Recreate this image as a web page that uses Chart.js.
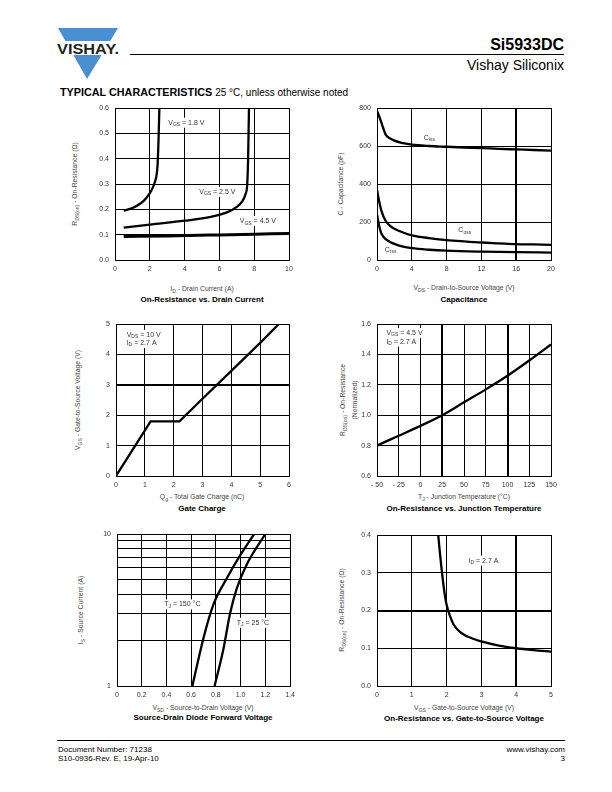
<!DOCTYPE html>
<html>
<head>
<meta charset="utf-8">
<script src="https://cdn.jsdelivr.net/npm/chart.js@4.4.1/dist/chart.umd.min.js"></script>
<style>
  body { margin: 0; width: 612px; height: 792px; position: relative; background: #fff; overflow: hidden;
         font-family: "Liberation Sans", Arial, Helvetica, sans-serif; color: #000; }
  .abs { position: absolute; white-space: nowrap; }
  .c { transform: translate(-50%, -50%); }
  .r { transform: translate(-50%, -50%) rotate(-90deg); }
  .ax { font-size: 6.8px; color: #444; line-height: 1; }
  .tt { font-size: 8px; font-weight: bold; line-height: 1; }
  .s { font-size: 0.75em; position: relative; top: 0.3em; }
</style>
</head>
<body>

<svg class="abs" style="left:0;top:0" width="140" height="90">
  <polygon points="58,28 118,28 87,79" fill="#4a8fd2"/>
  <rect x="54" y="41" width="70" height="14" fill="#fff"/>
  <text x="57" y="53.5" font-family="Liberation Sans, Arial" font-weight="bold" font-size="14" textLength="62" lengthAdjust="spacingAndGlyphs" fill="#222">VISHAY.</text>
</svg>
<div class="abs" style="left:130px;top:54px;width:434px;border-top:1px solid #000"></div>
<div class="abs" style="right:48px;top:36.5px;font-size:16px;font-weight:bold;line-height:1">Si5933DC</div>
<div class="abs" style="right:48px;top:57.7px;font-size:14px;line-height:1">Vishay Siliconix</div>
<div class="abs" style="left:60px;top:87px;font-size:10.8px;line-height:1"><b>TYPICAL CHARACTERISTICS</b> <span style="font-size:10px">25 °C, unless otherwise noted</span></div>

<div class="abs r ax" style="left:75px;top:184px">R<span class="s">DS(on)</span> - On-Resistance (Ω)</div>
<div class="abs c ax" style="left:202px;top:289px">I<span class="s">D</span> - Drain Current (A)</div>
<div class="abs c tt" style="left:202px;top:299.5px">On-Resistance vs. Drain Current</div>

<div class="abs r ax" style="left:341px;top:184px">C - Capacitance (pF)</div>
<div class="abs c ax" style="left:464px;top:288px">V<span class="s">DS</span> - Drain-to-Source Voltage (V)</div>
<div class="abs c tt" style="left:464px;top:300px">Capacitance</div>

<div class="abs r ax" style="left:78px;top:400px">V<span class="s">GS</span> - Gate-to-Source Voltage (V)</div>
<div class="abs c ax" style="left:202px;top:497px">Q<span class="s">g</span> - Total Gate Charge (nC)</div>
<div class="abs c tt" style="left:202px;top:509px">Gate Charge</div>

<div class="abs r ax" style="left:343px;top:400px">R<span class="s">DS(on)</span> - On-Resistance</div>
<div class="abs r ax" style="left:355px;top:400px">(Normalized)</div>
<div class="abs c ax" style="left:464px;top:497px">T<span class="s">J</span> - Junction Temperature (°C)</div>
<div class="abs c tt" style="left:464px;top:509px">On-Resistance vs. Junction Temperature</div>

<div class="abs r ax" style="left:81px;top:610px">I<span class="s">S</span> - Source Current (A)</div>
<div class="abs c ax" style="left:203px;top:708px">V<span class="s">SD</span> - Source-to-Drain Voltage (V)</div>
<div class="abs c tt" style="left:203px;top:718px">Source-Drain Diode Forward Voltage</div>

<div class="abs r ax" style="left:342px;top:610px">R<span class="s">DS(on)</span> - On-Resistance (Ω)</div>
<div class="abs c ax" style="left:464px;top:708px">V<span class="s">GS</span> - Gate-to-Source Voltage (V)</div>
<div class="abs c tt" style="left:464px;top:718.5px">On-Resistance vs. Gate-to-Source Voltage</div>

<div class="abs" style="left:57px;top:740px;width:508px;border-top:1px solid #000"></div>
<div class="abs" style="left:58px;top:745px;font-size:8px;line-height:9px">Document Number: 71238<br>S10-0936-Rev. E, 19-Apr-10</div>
<div class="abs" style="right:47px;top:745px;font-size:8px;line-height:9px;text-align:right">www.vishay.com<br>3</div>

<script>
// On-Resistance vs. Drain Current
const idTicks = [0, 2, 4, 6, 8, 10];
const rdsTicks = [0, 0.1, 0.2, 0.3, 0.4, 0.5, 0.6];
const idVgs18 = [0.5, 1.0, 1.5, 1.8, 2.1, 2.3, 2.4, 2.45, 2.5, 2.55];
const rdsVgs18 = [0.195, 0.205, 0.225, 0.245, 0.275, 0.31, 0.34, 0.38, 0.47, 0.6];
const idVgs25 = [0.5, 2, 4, 5.5, 6.5, 7.0, 7.3, 7.5, 7.6, 7.65, 7.7];
const rdsVgs25 = [0.128, 0.14, 0.155, 0.17, 0.19, 0.21, 0.23, 0.26, 0.3, 0.4, 0.6];
const idVgs45 = [0.5, 3, 6, 8, 10];
const rdsVgs45 = [0.093, 0.095, 0.099, 0.102, 0.105];

// Capacitance
const vdsTicks = [0, 4, 8, 12, 16, 20];
const capTicks = [0, 200, 400, 600, 800];
const vdsCiss = [0, 0.3, 0.6, 1, 1.5, 2, 3, 4, 6, 8, 10, 12, 14, 16, 18, 20];
const ciss = [785, 750, 710, 660, 640, 628, 615, 607, 600, 596, 592, 589, 585, 582, 579, 576];
const vdsCoss = [0, 0.2, 0.5, 1, 1.5, 2, 3, 4, 6, 8, 10, 12, 14, 16, 18, 20];
const coss = [370, 320, 260, 205, 180, 165, 145, 130, 115, 105, 98, 92, 88, 84, 82, 80];
const vdsCrss = [0, 0.2, 0.5, 1, 1.5, 2, 3, 4, 6, 8, 12, 16, 20];
const crss = [240, 190, 140, 110, 95, 85, 70, 62, 54, 49, 44, 41, 39];

// Gate Charge
const qgTicks = [0, 1, 2, 3, 4, 5, 6];
const vgsTicks = [0, 1, 2, 3, 4, 5];
const qg = [0, 1.2, 2.2, 3.0, 4.0, 5.0, 5.65];
const vgsCharge = [0, 1.8, 1.8, 2.54, 3.46, 4.38, 5.0];

// On-Resistance vs. Junction Temperature
const tjTicks = [-50, -25, 0, 25, 50, 75, 100, 125, 150];
const normTicks = [0.6, 0.8, 1.0, 1.2, 1.4, 1.6];
const tj = [-50, -25, 0, 25, 50, 75, 100, 125, 150];
const rdsNorm = [0.80, 0.865, 0.93, 1.0, 1.085, 1.17, 1.26, 1.36, 1.465];

// Source-Drain Diode Forward Voltage
const vsdTicks = [0, 0.2, 0.4, 0.6, 0.8, 1.0, 1.2, 1.4];
const isTicks = [1, 2, 3, 4, 5, 6, 7, 8, 9, 10];
const vsd150 = [0.61, 0.70, 0.78, 0.89, 1.0, 1.11];
const is150 = [1, 2.07, 3.43, 5.13, 7.31, 10];
const vsd25 = [0.79, 0.86, 0.915, 0.97, 1.05, 1.2];
const is25 = [1, 1.73, 3.0, 4.4, 6.3, 10];

// On-Resistance vs. Gate-to-Source Voltage
const vgsSweepTicks = [0, 1, 2, 3, 4, 5];
const rdsSweepTicks = [0, 0.1, 0.2, 0.3, 0.4];
const vgsSweep = [1.76, 1.8, 1.85, 1.9, 1.95, 2.0, 2.1, 2.2, 2.4, 2.6, 3.0, 3.5, 4.0, 4.5, 5.0];
const rdsSweep = [0.4, 0.36, 0.315, 0.275, 0.24, 0.215, 0.185, 0.163, 0.142, 0.131, 0.118, 0.107, 0.100, 0.095, 0.091];

Chart.defaults.font.family = '"Liberation Sans", Arial, Helvetica, sans-serif';
Chart.defaults.color = '#333';

function pts(xs, ys) {
  return xs.map((x, i) => ({ x: x, y: ys[i] }));
}

// in-plot labels, "_{..}" = subscript
function notesPlugin(items) {
  return {
    id: 'notes',
    beforeDatasetsDraw(chart) {
      const ctx = chart.ctx;
      items.forEach(n => {
        const parts = n.text.split(/(_\{[^}]*\})/).filter(Boolean).map(p =>
          p.startsWith('_{') ? { t: p.slice(2, -1), sub: true } : { t: p, sub: false });
        const px = chart.scales.x.getPixelForValue(n.x);
        const py = chart.scales.y.getPixelForValue(n.y);
        ctx.save();
        let w = 0;
        parts.forEach(p => {
          ctx.font = (p.sub ? 5 : 7) + 'px "Liberation Sans", Arial';
          p.w = ctx.measureText(p.t).width;
          w += p.w;
        });
        ctx.fillStyle = '#fff';
        ctx.fillRect(px - 1.5, py - 7, w + 3, 10);
        ctx.fillStyle = '#333';
        ctx.textBaseline = 'alphabetic';
        let x = px;
        parts.forEach(p => {
          ctx.font = (p.sub ? 5 : 7) + 'px "Liberation Sans", Arial';
          ctx.fillText(p.t, x, py + (p.sub ? 1.5 : 0));
          x += p.w;
        });
        ctx.restore();
      });
    }
  };
}

function axis(ticks, fmt, thick, horiz, log) {
  const near = v => thick.some(t => Math.abs(t - v) < 1e-6);
  return {
    type: log ? 'logarithmic' : 'linear',
    min: ticks[0],
    max: ticks[ticks.length - 1],
    afterBuildTicks: s => { s.ticks = ticks.map(v => ({ value: v })); },
    afterFit: s => {
      if (horiz) s.height = 20; else s.width = 40;
      s.paddingLeft = s.paddingRight = s.paddingTop = s.paddingBottom = 0;
    },
    grid: { color: '#000', drawTicks: false, lineWidth: c => (c.tick && near(c.tick.value)) ? 2 : 1 },
    border: { color: '#000', width: 1 },
    ticks: { font: { size: 7 }, color: '#333', padding: horiz ? 5 : 6, maxRotation: 0, autoSkip: false, callback: v => fmt(v) }
  };
}

function makeChart(o) {
  const b = o.box;
  const w = b[2] - b[0] + 50, h = b[3] - b[1] + 26;
  const cv = document.createElement('canvas');
  cv.width = w; cv.height = h;
  cv.style.cssText = 'position:absolute;left:' + (b[0] - 40) + 'px;top:' + (b[1] - 6) + 'px;width:' + w + 'px;height:' + h + 'px';
  document.body.appendChild(cv);
  return new Chart(cv, {
    type: 'scatter',
    data: {
      datasets: o.series.map(s => ({
        data: pts(s.x, s.y),
        showLine: true,
        borderColor: '#000',
        borderWidth: s.w || 2.3,
        pointRadius: 0,
        tension: s.straight ? 0 : 0.4,
        cubicInterpolationMode: s.straight ? 'default' : 'monotone',
        fill: false
      }))
    },
    options: {
      responsive: false,
      animation: false,
      devicePixelRatio: 1,
      layout: { padding: { top: 6, right: 10, left: 0, bottom: 0 } },
      plugins: { legend: { display: false }, tooltip: { enabled: false } },
      scales: {
        x: axis(o.xTicks, o.xFmt, o.thickX || [], true, false),
        y: axis(o.yTicks, o.yFmt, o.thickY || [], false, o.yLog)
      }
    },
    plugins: [notesPlugin(o.notes)]
  });
}

const plain = v => String(v);
const oneDec = v => v.toFixed(1);

makeChart({
  box: [115, 108, 289, 260],
  xTicks: idTicks, yTicks: rdsTicks, xFmt: plain, yFmt: oneDec,
  series: [
    { x: idVgs18, y: rdsVgs18 },
    { x: idVgs25, y: rdsVgs25 },
    { x: idVgs45, y: rdsVgs45, w: 3 }
  ],
  notes: [
    { x: 3.06, y: 0.534, text: 'V_{GS} = 1.8 V' },
    { x: 4.84, y: 0.261, text: 'V_{GS} = 2.5 V' },
    { x: 7.17, y: 0.146, text: 'V_{GS} = 4.5 V' }
  ]
});

makeChart({
  box: [377, 108, 551, 260],
  xTicks: vdsTicks, yTicks: capTicks, xFmt: plain, yFmt: plain, thickX: [16],
  series: [
    { x: vdsCiss, y: ciss },
    { x: vdsCoss, y: coss },
    { x: vdsCrss, y: crss }
  ],
  notes: [
    { x: 5.38, y: 634, text: 'C_{iss}' },
    { x: 9.35, y: 147, text: 'C_{oss}' },
    { x: 0.88, y: 43, text: 'C_{rss}' }
  ]
});

makeChart({
  box: [116, 324, 289, 476],
  xTicks: qgTicks, yTicks: vgsTicks, xFmt: plain, yFmt: plain, thickY: [3],
  series: [{ x: qg, y: vgsCharge, straight: true }],
  notes: [
    { x: 0.37, y: 4.58, text: 'V_{DS} = 10 V' },
    { x: 0.37, y: 4.31, text: 'I_{D} = 2.7 A' }
  ]
});

makeChart({
  box: [377, 324, 551, 476],
  xTicks: tjTicks, yTicks: normTicks,
  xFmt: v => v < 0 ? '- ' + (-v) : String(v), yFmt: oneDec, thickX: [25, 100],
  series: [{ x: tj, y: rdsNorm }],
  notes: [
    { x: -39.2, y: 1.528, text: 'V_{GS} = 4.5 V' },
    { x: -39.2, y: 1.471, text: 'I_{D} = 2.7 A' }
  ]
});

makeChart({
  box: [117, 534, 290, 686],
  xTicks: vsdTicks, yTicks: isTicks, yLog: true,
  xFmt: v => v === 0 ? '0' : v.toFixed(1), yFmt: v => (v === 1 || v === 10) ? String(v) : '',
  series: [
    { x: vsd150, y: is150 },
    { x: vsd25, y: is25 }
  ],
  notes: [
    { x: 0.382, y: 3.34, text: 'T_{J} = 150 °C' },
    { x: 0.969, y: 2.53, text: 'T_{J} = 25 °C' }
  ]
});

makeChart({
  box: [377, 535, 551, 686],
  xTicks: vgsSweepTicks, yTicks: rdsSweepTicks, xFmt: plain, yFmt: oneDec, thickX: [4], thickY: [0.2],
  series: [{ x: vgsSweep, y: rdsSweep }],
  notes: [
    { x: 2.63, y: 0.327, text: 'I_{D} = 2.7 A' }
  ]
});
</script>
</body>
</html>
